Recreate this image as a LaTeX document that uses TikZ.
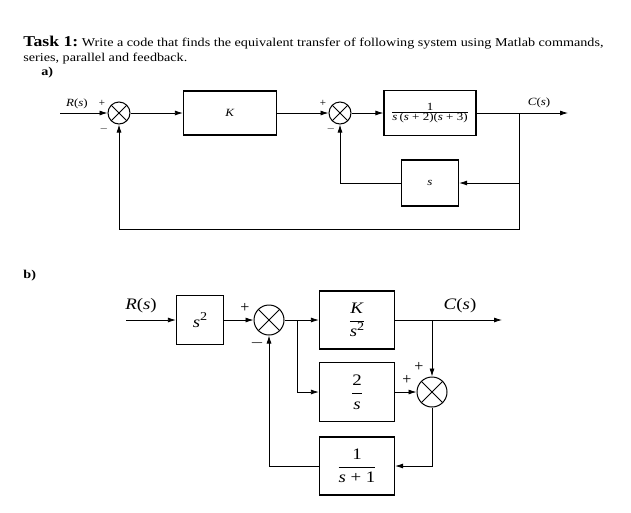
\documentclass[tikz,border=0pt]{standalone}
\usepackage{graphicx}
\usepackage{fontspec}
\setmainfont{Liberation Serif}
\usetikzlibrary{arrows.meta,positioning}

\newcommand\frc[2]{$\frac{\hbox{#1}}{\hbox{#2}}$}
\newcommand\dfrc[2]{$\displaystyle\frac{\hbox{#1}}{\hbox{#2}}$}
\newcommand\iv[1]{\textit{#1}}
\newcommand\sx[1]{\scalebox{1.18}[1]{#1}}
\newcommand\sq{\iv{s}\raisebox{0.42em}{\fontsize{12}{12}\selectfont 2}}

\begin{document}
\begin{tikzpicture}[x=1pt,y=-1pt,line width=0.8pt,
	blk/.style={draw,line width=1.3pt,inner sep=0pt},
	sumnode/.style={draw,circle,line width=1pt,inner sep=0pt,
		path picture={\draw[line width=0.9pt]
			(path picture bounding box.north west)--(path picture bounding box.south east)
			(path picture bounding box.south west)--(path picture bounding box.north east);}},
	arr/.style={-{Latex[length=8pt,width=5pt]}},
	sgn/.style={inner sep=0pt}]
	\useasboundingbox (0,0) rectangle (631,512);
	% heading
	\node[anchor=base west,inner sep=0pt] (title) at (23,46)
		{\sx{\fontsize{15}{15}\selectfont\bfseries Task 1:\fontsize{12}{12}\mdseries\ Write a code that finds the equivalent transfer of following system using Matlab commands,}};
	\node[anchor=base west,inner sep=0pt,font=\fontsize{12}{12}\selectfont] (title2) at (23,61) {\sx{series, parallel and feedback.}};
	\node[anchor=base west,inner sep=0pt,font=\fontsize{12}{12}\selectfont\bfseries] (la) at (41,75) {\sx{a)}};
	\node[anchor=base west,inner sep=0pt,font=\fontsize{12}{12}\selectfont\bfseries] (lb) at (23,278) {\sx{b)}};
	%
	% part a
	\begin{scope}[font=\fontsize{11}{11}\selectfont]
		\node[sumnode,minimum size=22pt] (a1) at (119,113) {};
		\node[sumnode,minimum size=22pt] (a2) at (340,113) {};
		\node[blk,minimum width=93pt,minimum height=44pt] (ak) at (230,113) {\sx{\iv{K}}};
		\node[blk,minimum width=92pt,minimum height=45pt] (ag) at (430,113)
			{\sx{\frc{1}{\iv{s}\,(\iv{s} + 2)(\iv{s} + 3)}}};
		\node[blk,minimum width=57pt,minimum height=46pt] (as) at (430,183) {\sx{\iv{s}}};
		\coordinate (ain) at (60,113);
		\coordinate (ab) at (519,113);
		\coordinate (aout) at (568,113);
		\coordinate (abot) at (519,229);
		\node[inner sep=0pt] (ar) at (77,104) {\sx{\iv{R}(\iv{s})}};
		\node[inner sep=0pt] (ac) at (539,103) {\sx{\iv{C}(\iv{s})}};
		\draw[arr] (ain) -- (a1);
		\draw[arr] (a1) -- (ak);
		\draw[arr] (ak) -- (a2);
		\draw[arr] (a2) -- (ag);
		\draw[arr] (ag) -- (aout);
		\draw[arr] (ab) |- (as);
		\draw[arr] (as) -| (a2);
		\draw[arr] (ab) -- (abot) -| (a1);
		\node[sgn] (pa1) at (102,103) {+};
		\node[sgn] (ma1) at (104,129) {$-$};
		\node[sgn] (pa2) at (323,103) {+};
		\node[sgn] (ma2) at (331,129) {$-$};
	\end{scope}
	%
	% part b
	\begin{scope}[font=\fontsize{16}{16}\selectfont]
		\node[blk,minimum width=47pt,minimum height=49pt] (bs2) at (200,320) {\sx{\sq}};
		\node[sumnode,minimum size=30pt] (b1) at (269,320) {};
		\node[sumnode,minimum size=30pt] (b2) at (432,392) {};
		\node[blk,minimum width=75pt,minimum height=58pt] (bk) at (357,320) {\sx{\dfrc{\iv{K}}{\sq}}};
		\node[blk,minimum width=75pt,minimum height=59pt] (bt) at (357,392) {\sx{\dfrc{2}{\iv{s}}}};
		\node[blk,minimum width=75pt,minimum height=58pt] (bf) at (357,466) {\sx{\dfrc{1}{\iv{s} + 1}}};
		\coordinate (bin) at (126,320);
		\coordinate (bj) at (297,320);
		\coordinate (bc) at (432,320);
		\coordinate (bout) at (502,320);
		\node[inner sep=0pt] (br) at (141,306) {\sx{\iv{R}(\iv{s})}};
		\node[inner sep=0pt] (bcs) at (460,306) {\sx{\iv{C}(\iv{s})}};
		\draw[arr] (bin) -- (bs2);
		\draw[arr] (bs2) -- (b1);
		\draw[arr] (b1) -- (bk);
		\draw[arr] (bj) |- (bt);
		\draw[arr] (bk) -- (bout);
		\draw[arr] (bc) -- (b2);
		\draw[arr] (bt) -- (b2);
		\draw[arr] (b2) |- (bf);
		\draw[arr] (bf) -| (b1);
		\node[sgn] (pb1) at (245,308) {+};
		\node[sgn] (mb1) at (257,343) {$-$};
		\node[sgn] (pb2) at (419,367) {+};
		\node[sgn] (pb3) at (407,380) {+};
	\end{scope}
\end{tikzpicture}
\end{document}
